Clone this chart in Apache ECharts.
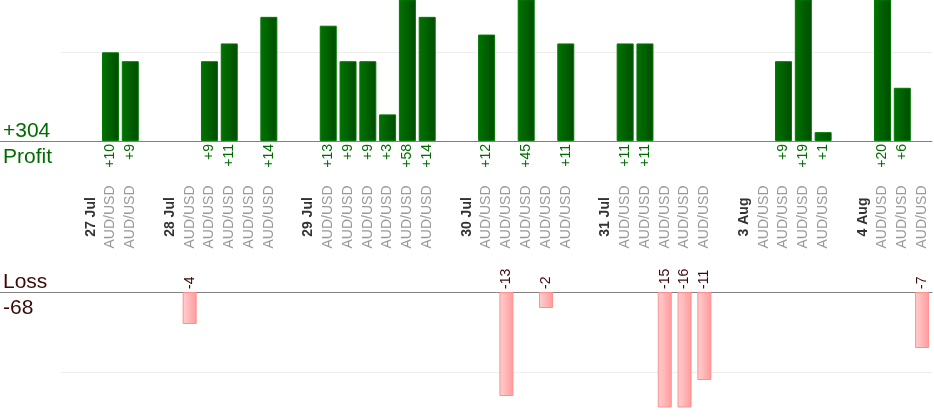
<!DOCTYPE html>
<html>
<head>
<meta charset="utf-8">
<script src="https://cdn.jsdelivr.net/npm/echarts@6/dist/echarts.min.js"></script>
<style>
  html, body { margin: 0; padding: 0; background: #fff; }
  #chart { width: 934px; height: 420px; }
</style>
</head>
<body>
<div id="chart"></div>
<script>
// x categories: blank slot, then each day label followed by its trades
var categories = [
  '', '27 Jul', 'AUD/USD', 'AUD/USD',
  '', '28 Jul', 'AUD/USD', 'AUD/USD', 'AUD/USD', 'AUD/USD', 'AUD/USD',
  '', '29 Jul', 'AUD/USD', 'AUD/USD', 'AUD/USD', 'AUD/USD', 'AUD/USD', 'AUD/USD',
  '', '30 Jul', 'AUD/USD', 'AUD/USD', 'AUD/USD', 'AUD/USD', 'AUD/USD',
  '', '31 Jul', 'AUD/USD', 'AUD/USD', 'AUD/USD', 'AUD/USD', 'AUD/USD',
  '', '3 Aug', 'AUD/USD', 'AUD/USD', 'AUD/USD', 'AUD/USD',
  '', '4 Aug', 'AUD/USD', 'AUD/USD', 'AUD/USD'
]
var dayLabels = ['27 Jul', '28 Jul', '29 Jul', '30 Jul', '31 Jul', '3 Aug', '4 Aug']

// profit per trade (null = none)
var profit = [
  null, null, 10, 9,
  null, null, null, 9, 11, null, 14,
  null, null, 13, 9, 9, 3, 58, 14,
  null, null, 12, null, 45, null, 11,
  null, null, 11, 11, null, null, null,
  null, null, null, 9, 19, 1,
  null, null, 20, 6, null
]
// loss per trade (null = none)
var loss = [
  null, null, null, null,
  null, null, -4, null, null, null, null,
  null, null, null, null, null, null, null, null,
  null, null, null, -13, null, -2, null,
  null, null, null, null, -15, -16, -11,
  null, null, null, null, null, null,
  null, null, null, null, -7
]
var profitTotal = '+304'
var lossTotal = '-68'

var green = '#006b00'
var lossText = '#3c0808'
var font = "'Liberation Sans', Arial, sans-serif"

var chart = echarts.init(document.getElementById('chart'))

var option = {
  animation: false,
  textStyle: { fontFamily: font },
  grid: [
    { left: 61, right: 2, top: 0, height: 141 },
    { left: 61, right: 2, top: 292, height: 115 }
  ],
  xAxis: [
    {
      // profit values under the top baseline
      type: 'category', gridIndex: 0, position: 'bottom', data: categories,
      axisLine: { lineStyle: { color: '#808080' } },
      axisTick: { show: false },
      axisLabel: {
        interval: 0, rotate: 90, margin: 3, color: green, fontSize: 14, fontFamily: font,
        formatter: function (v, i) { return profit[i] == null ? '' : '+' + profit[i] }
      }
    },
    {
      // day and symbol names, centred in their band
      type: 'category', gridIndex: 0, position: 'bottom', offset: 40, data: categories,
      axisLine: { show: false },
      axisTick: { show: false },
      axisLabel: {
        interval: 0, rotate: 90, margin: 36, align: 'center', fontSize: 14, fontFamily: font,
        formatter: function (v) {
          if (v === '') return ''
          return dayLabels.indexOf(v) >= 0 ? '{d|' + v + '}' : '{p|' + v + '}'
        },
        rich: {
          d: { color: '#333', fontWeight: 'bold', fontSize: 14, fontFamily: font },
          p: { color: '#999', fontSize: 14, fontFamily: font }
        }
      }
    },
    {
      // loss values above the bottom baseline
      type: 'category', gridIndex: 1, position: 'top', data: categories,
      axisLine: { lineStyle: { color: '#808080' } },
      axisTick: { show: false },
      axisLabel: {
        interval: 0, rotate: 90, margin: 3, color: lossText, fontSize: 14, fontFamily: font,
        formatter: function (v, i) { return loss[i] == null ? '' : String(loss[i]) }
      }
    }
  ],
  yAxis: [
    {
      type: 'value', gridIndex: 0, min: 0, max: 15.9, interval: 10,
      axisLine: { show: false }, axisTick: { show: false }, axisLabel: { show: false },
      splitLine: { showMinLine: false, showMaxLine: false, lineStyle: { color: '#eeeeee' } }
    },
    {
      type: 'value', gridIndex: 1, inverse: true, min: 0, max: 14.375, interval: 10,
      axisLine: { show: false }, axisTick: { show: false }, axisLabel: { show: false },
      splitLine: { showMinLine: false, showMaxLine: false, lineStyle: { color: '#eeeeee' } }
    }
  ],
  series: [
    {
      type: 'bar', xAxisIndex: 0, yAxisIndex: 0, barWidth: 17,
      data: profit.map(function (v) { return v == null ? '-' : v }),
      itemStyle: {
        color: new echarts.graphic.LinearGradient(0, 0, 1, 0, [
          { offset: 0, color: '#007400' },
          { offset: 1, color: '#004c00' }
        ]),
        borderColor: '#007a00', borderWidth: 1
      }
    },
    {
      type: 'bar', xAxisIndex: 2, yAxisIndex: 1, barWidth: 14,
      // loss axis is inverted, so plot the size of each loss
      data: loss.map(function (v) { return v == null ? '-' : -v }),
      itemStyle: {
        color: new echarts.graphic.LinearGradient(0, 0, 1, 0, [
          { offset: 0, color: '#ffd0d0' },
          { offset: 1, color: '#ff9a9a' }
        ]),
        borderColor: '#ff9090', borderWidth: 1
      }
    }
  ],
  graphic: [
    // baselines continue under the side captions
    { type: 'line', shape: { x1: 0, y1: 141.5, x2: 61, y2: 141.5 }, style: { stroke: '#808080', lineWidth: 1 } },
    { type: 'line', shape: { x1: 0, y1: 292.5, x2: 61, y2: 292.5 }, style: { stroke: '#808080', lineWidth: 1 } },
    { type: 'text', left: 3, top: 121, style: { text: profitTotal, fill: green, font: '21px ' + font } },
    { type: 'text', left: 3, top: 147, style: { text: 'Profit', fill: green, font: '21px ' + font } },
    { type: 'text', left: 3, top: 272, style: { text: 'Loss', fill: lossText, font: '21px ' + font } },
    { type: 'text', left: 3, top: 298, style: { text: lossTotal, fill: lossText, font: '21px ' + font } }
  ]
}

chart.setOption(option)
</script>
</body>
</html>
